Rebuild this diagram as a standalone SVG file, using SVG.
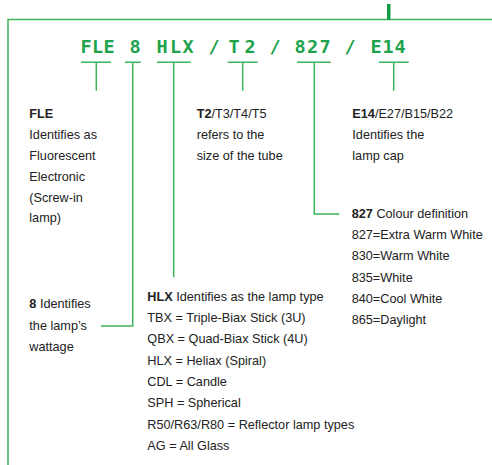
<svg xmlns="http://www.w3.org/2000/svg" width="492" height="465" viewBox="0 0 492 465">
<style>
.ln{fill:none;stroke:#3cb55a;stroke-width:1.5}
.code{font-family:"DejaVu Sans Mono",monospace;font-weight:bold;font-size:18.5px;fill:#1ea34c;text-anchor:middle}
.t{font-family:"Liberation Sans",Arial,sans-serif;font-size:12.7px;fill:#222}
.b{font-weight:bold}
</style>
<rect width="492" height="465" fill="#fff"/>
<g id="frame">
<path class="ln" d="M8 465V19.5H492"/>
<rect x="387" y="4" width="3.5" height="15.5" fill="#139a44"/>
</g>
<g id="code">
<text class="code" y="52.7" x="86 97.5 109 135 162 175.5 188 214 234 250 275 300 312.5 325 350 376 388 400">FLE8HLX/T2/827/E14</text>
</g>
<g id="connectors">
<path class="ln" d="M81 62.3H111M96.3 62.3V90.7"/>
<path class="ln" d="M125 62.3H140.7M132.7 62.3V326H101"/>
<path class="ln" d="M157 62.3H190.7M173.7 62.3V277.3"/>
<path class="ln" d="M227.7 62.3H257.7M242.7 62.3V90.7"/>
<path class="ln" d="M297 62.3H330.7M314.3 62.3V214H339.3"/>
<path class="ln" d="M378.7 62.3H408.7M393.7 62.3V90.7"/>
</g>
<g id="fle">
<text class="t" x="29.3"><tspan y="117.7" class="b">FLE</tspan><tspan x="29.3" y="138.5">Identifies as</tspan><tspan x="29.3" y="159.5">Fluorescent</tspan><tspan x="29.3" y="180.5">Electronic</tspan><tspan x="29.3" y="201.5">(Screw-in</tspan><tspan x="29.3" y="222.3">lamp)</tspan></text>
</g>
<g id="t2">
<text class="t" x="196.7"><tspan y="117.7"><tspan class="b">T2</tspan>/T3/T4/T5</tspan><tspan x="196.7" y="138.5">refers to the</tspan><tspan x="196.7" y="159.5">size of the tube</tspan></text>
</g>
<g id="e14">
<text class="t" x="352.3"><tspan y="117.7"><tspan class="b">E14</tspan>/E27/B15/B22</tspan><tspan x="352.3" y="138.5">Identifies the</tspan><tspan x="352.3" y="159.5">lamp cap</tspan></text>
</g>
<g id="c827">
<text class="t" x="351.7"><tspan y="217.7"><tspan class="b">827</tspan> Colour definition</tspan><tspan x="351.7" y="239">827=Extra Warm White</tspan><tspan x="351.7" y="260.3">830=Warm White</tspan><tspan x="351.7" y="281.6">835=White</tspan><tspan x="351.7" y="302.9">840=Cool White</tspan><tspan x="351.7" y="324.2">865=Daylight</tspan></text>
</g>
<g id="w8">
<text class="t" x="29.3"><tspan y="308.3"><tspan class="b">8</tspan> Identifies</tspan><tspan x="29.3" y="329.8">the lamp’s</tspan><tspan x="29.3" y="351.3">wattage</tspan></text>
</g>
<g id="hlx">
<text class="t" x="147.3"><tspan y="300.7"><tspan class="b">HLX</tspan> Identifies as the lamp type</tspan><tspan x="147.3" y="322">TBX = Triple-Biax Stick (3U)</tspan><tspan x="147.3" y="343.3">QBX = Quad-Biax Stick (4U)</tspan><tspan x="147.3" y="364.6">HLX = Heliax (Spiral)</tspan><tspan x="147.3" y="385.9">CDL = Candle</tspan><tspan x="147.3" y="407.2">SPH = Spherical</tspan><tspan x="147.3" y="428.5">R50/R63/R80 = Reflector lamp types</tspan><tspan x="147.3" y="449.8">AG = All Glass</tspan></text>
</g>
</svg>
